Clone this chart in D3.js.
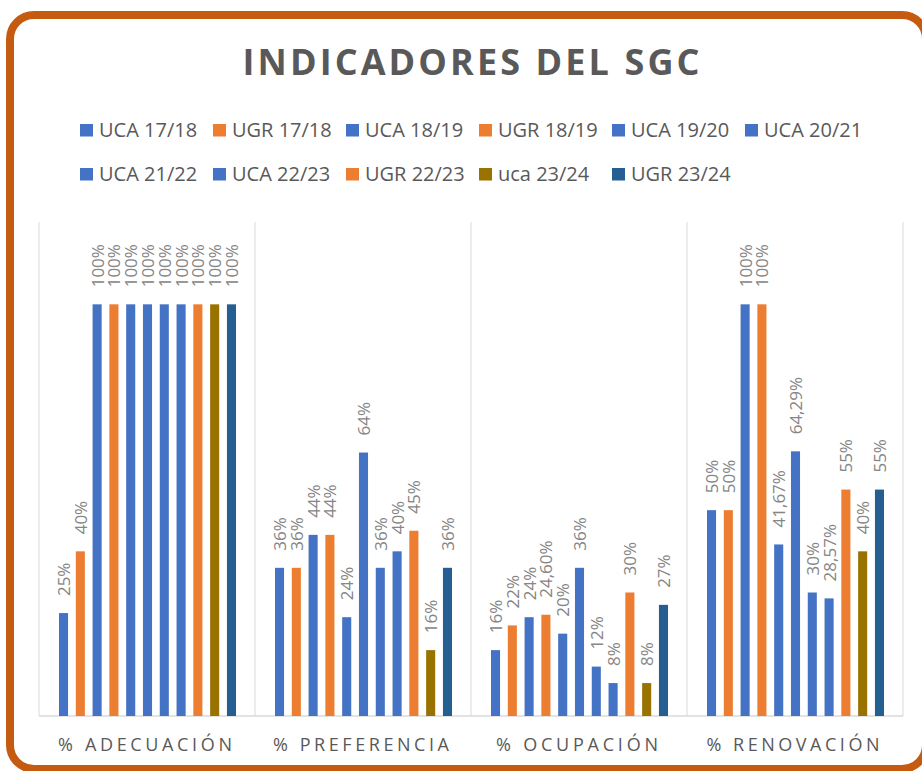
<!DOCTYPE html>
<html>
<head>
<meta charset="utf-8">
<script src="https://cdn.jsdelivr.net/npm/d3@7"></script>
<style>
  html, body { margin: 0; padding: 0; background: #fff; }
  svg { display: block; font-family: "Open Sans", "Noto Sans", sans-serif; }
</style>
</head>
<body>
<div id="chart"></div>
<script>
// Indicadores del SGC — grouped bars, one group per indicator, 11 series each.

const categories = ["% ADECUACIÓN", "% PREFERENCIA", "% OCUPACIÓN", "% RENOVACIÓN"];
const seriesNames = ["UCA 17/18", "UGR 17/18", "UCA 18/19", "UGR 18/19", "UCA 19/20", "UCA 20/21",
                     "UCA 21/22", "UCA 22/23", "UGR 22/23", "uca 23/24", "UGR 23/24"];
const seriesColors = ["#4472c4", "#ed7d31", "#4472c4", "#ed7d31", "#4472c4", "#4472c4",
                      "#4472c4", "#4472c4", "#ed7d31", "#997300", "#255e91"];

// values in %, in series order
const adecuacion  = [25, 40, 100, 100, 100, 100, 100, 100, 100, 100, 100];
const preferencia = [36, 36, 44, 44, 24, 64, 36, 40, 45, 16, 36];
const ocupacion   = [16, 22, 24, 24.6, 20, 36, 12, 8, 30, 8, 27];
const renovacion  = [50, 50, 100, 100, 41.67, 64.29, 30, 28.57, 55, 40, 55];

const valuesByCat = [adecuacion, preferencia, ocupacion, renovacion];

const W = 922, H = 771;
const plot = { left: 39, right: 903, top: 222, bottom: 716 };
const grey = "#595959";

const svg = d3.select("#chart").append("svg")
  .attr("width", W).attr("height", H);

// rounded orange frame
svg.append("rect")
  .attr("x", 10).attr("y", 15).attr("width", 916).attr("height", 754)
  .attr("rx", 24).attr("ry", 24)
  .attr("fill", "#fff").attr("stroke", "#c55a11").attr("stroke-width", 8);

// title
svg.append("text")
  .attr("x", 471).attr("y", 75)
  .attr("text-anchor", "middle")
  .attr("font-size", 36).attr("font-weight", 700)
  .attr("fill", grey)
  .attr("textLength", 457).attr("lengthAdjust", "spacing")
  .text("INDICADORES DEL SGC");

// legend: Excel-style grid, 6 columns
const legCols = 6, legX = 80, legColW = 133, legRows = [137, 181];
const leg = svg.append("g").selectAll("g").data(seriesNames).join("g")
  .attr("transform", (d, i) => `translate(${legX + (i % legCols) * legColW},${legRows[Math.floor(i / legCols)]})`);
leg.append("rect")
  .attr("x", 0).attr("y", -13).attr("width", 13).attr("height", 12.5)
  .attr("fill", (d, i) => seriesColors[i]);
leg.append("text")
  .attr("x", 19).attr("y", 0)
  .attr("font-size", 20).attr("fill", grey)
  .text(d => d);

// scales
const x0 = d3.scaleBand().domain(categories).range([plot.left, plot.right]).padding(0);
const x1 = d3.scaleBand().domain(d3.range(seriesNames.length)).range([20, 197]).paddingInner(0.46).paddingOuter(0);
const y = d3.scaleLinear().domain([0, 1.2]).range([plot.bottom, plot.top]);

// gridlines: category separators + baseline
const gridX = categories.map(c => x0(c)).concat([plot.right]);
svg.append("g").selectAll("line").data(gridX).join("line")
  .attr("x1", d => d).attr("x2", d => d)
  .attr("y1", y(1.2)).attr("y2", y(0))
  .attr("stroke", "#d9d9d9").attr("stroke-width", 1);
svg.append("line")
  .attr("x1", plot.left).attr("x2", plot.right)
  .attr("y1", y(0)).attr("y2", y(0))
  .attr("stroke", "#d9d9d9").attr("stroke-width", 1.5);

// bars + rotated labels
const fmt = v => (Number.isInteger(v) ? v : v.toFixed(2).replace(".", ",")) + "%";
const rows = [];
categories.forEach((c, ci) => valuesByCat[ci].forEach((v, si) => rows.push({ c, si, v })));

const bars = svg.append("g");
bars.selectAll("rect").data(rows).join("rect")
  .attr("x", d => x0(d.c) + x1(d.si))
  .attr("y", d => y(d.v / 100))
  .attr("width", x1.bandwidth())
  .attr("height", d => y(0) - y(d.v / 100))
  .attr("fill", d => seriesColors[d.si]);

bars.selectAll("text").data(rows).join("text")
  .attr("transform", d => {
    const cx = x0(d.c) + x1(d.si) + x1.bandwidth() / 2;
    return `translate(${cx},${y(d.v / 100) - 17}) rotate(-90)`;
  })
  .attr("dominant-baseline", "central")
  .attr("font-size", 17).attr("fill", "#858585")
  .text(d => fmt(d.v));

// category labels (letter-spaced, stretched to the widths seen in the original)
const catLabelW = { "% ADECUACIÓN": 174, "% PREFERENCIA": 176, "% OCUPACIÓN": 162, "% RENOVACIÓN": 173 };
svg.append("g").selectAll("text").data(categories).join("text")
  .attr("x", d => x0(d) + x0.bandwidth() / 2 - 2)
  .attr("y", 751)
  .attr("text-anchor", "middle")
  .attr("font-size", 18).attr("fill", grey)
  .attr("textLength", d => catLabelW[d]).attr("lengthAdjust", "spacing")
  .text(d => d);
</script>
</body>
</html>
